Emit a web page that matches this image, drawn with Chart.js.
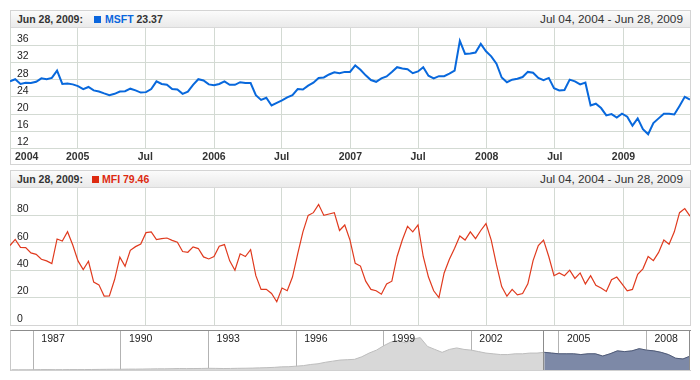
<!DOCTYPE html>
<html><head><meta charset="utf-8">
<script src="https://cdn.jsdelivr.net/npm/chart.js@4.4.1/dist/chart.umd.min.js"></script>
<style>
html,body{margin:0;padding:0;background:#fff;width:700px;height:380px;overflow:hidden;font-family:"Liberation Sans",Arial,sans-serif;}
.abs{position:absolute;}
.panel{position:absolute;box-sizing:border-box;border:1px solid #d4d4d4;background:#fff;}
.hdr{position:absolute;box-sizing:border-box;left:11px;width:679px;height:17px;background:linear-gradient(#fbfbfb,#eaeaea);border-bottom:1px solid #d9d9d9;}
.t{position:absolute;white-space:nowrap;line-height:17px;top:0;}
.b{font-weight:bold;font-size:10.5px;color:#333;}
.r{font-size:11.8px;color:#333;right:7px;}
.sq{position:absolute;width:7px;height:7px;top:5px;}
canvas{position:absolute;}
</style></head>
<body>
<div class="panel" style="left:10px;top:10px;width:681px;height:155px;"></div>
<div class="hdr" style="top:11px;">
  <span class="t b" style="left:6px;">Jun 28, 2009:</span>
  <span class="sq" style="left:83px;background:#0a66dd;"></span>
  <span class="t b" style="left:94px;"><span style="color:#0a66dd;">MSFT</span> 23.37</span>
  <span class="t r">Jul 04, 2004 - Jun 28, 2009</span>
</div>
<div class="panel" style="left:10px;top:170px;width:681px;height:156px;"></div>
<div class="hdr" style="top:171px;">
  <span class="t b" style="left:6px;">Jun 28, 2009:</span>
  <span class="sq" style="left:81px;background:#dd2a10;"></span>
  <span class="t b" style="left:91px;color:#dd2a10;">MFI 79.46</span>
  <span class="t r">Jul 04, 2004 - Jun 28, 2009</span>
</div>
<div class="abs" style="left:10px;top:330px;width:681px;height:41px;box-sizing:border-box;border-top:1px solid #8c8c8c;border-left:1px solid #c8c8c8;border-bottom:1px solid #d0d0d0;"></div>
<canvas id="c1" width="680" height="136" style="left:10px;top:28px;"></canvas>
<canvas id="c2" width="680" height="137" style="left:10px;top:188px;"></canvas>
<canvas id="c3" width="680" height="39" style="left:10px;top:331px;"></canvas>
<script>
// ---- data ----
const seriesStart = '2004-07-04';
const seriesEnd = '2009-06-28';
const stepDays = 14;
const msft = [27.6,28.1,27.0,27.3,27.2,27.5,28.3,28.1,28.4,30.1,27.0,27.1,26.9,26.5,25.8,26.3,25.5,25.25,24.8,24.4,
  24.7,25.25,25.3,25.9,25.5,25.0,25.1,25.8,27.6,27.0,26.8,25.8,25.7,24.7,25.2,26.8,28.1,27.8,26.9,26.7,
  27.0,27.6,26.8,26.8,27.4,27.2,27.2,24.4,23.3,23.8,22.0,22.6,23.2,23.9,24.4,25.8,25.7,26.6,27.3,28.4,
  28.5,29.2,29.7,29.5,29.8,29.8,31.3,30.3,29.0,27.9,27.5,28.3,28.75,29.8,30.9,30.6,30.4,29.5,29.9,30.9,
  28.9,28.3,28.8,28.8,29.4,30.1,37.0,34.0,34.1,34.3,36.3,34.6,33.4,31.7,28.5,27.4,28.0,28.2,28.6,29.8,
  29.6,28.4,27.9,28.4,26.0,25.5,25.6,28.0,27.6,26.9,27.3,22.0,22.4,21.4,19.7,20.0,19.2,20.1,19.4,17.3,
  19.0,16.5,15.3,17.9,19.0,20.1,20.1,19.9,21.9,24.0,23.37];
const mfi = [58,62.5,56.7,56.5,52.6,51.6,48,46.8,44.8,62.8,61.3,68.1,58.4,46.8,40.5,46.5,31.3,29.3,21.1,21.3,
  33.2,49.5,42.9,54.5,57.2,59.1,67.4,67.9,62.3,63,63.5,61.8,60.4,53.6,53.1,57,55.8,49.7,48.2,49.9,
  57.5,58.7,46.8,40,52,50,55,36,26,26,23,17,27,25,35,52,68,80,82,88,
  80,81,82,69,73,62,45,43,32,26,25,22.5,30,32,50,62,72,68,73,50,
  35,25,20,38,48,56,65,62,68,63,69,74,62,44,28,21,26,22,23,30,
  47,58,62,50,36,38,36,40,34,38,30,36,29,27,24.5,33,35,30,25,26,
  37,41,50,47,53,62,59,68,82,85,79.46];
const xTickDates = ['2004-07-04','2005-01-01','2005-07-01','2006-01-01','2006-07-01','2007-01-01','2007-07-01','2008-01-01','2008-07-01','2009-01-01'];
const xTickLabels = ['2004','2005','Jul','2006','Jul','2007','Jul','2008','Jul','2009'];
const msftTicks = [12,16,20,24,28,32,36];
const mfiTicks = [0,20,40,60,80];
const navStartYear = 1986.25;
const navStepYears = 0.25;
const navValues = [0.3,0.3,0.3,
  0.4,0.6,0.6,0.5, 0.5,0.6,0.6,0.6, 0.7,0.8,0.9,1.0, 1.0,1.2,1.2,1.3, 1.5,1.6,1.6,1.8,
  2.0,1.9,2.0,2.1, 2.3,2.2,2.0,2.1, 2.3,2.4,2.6,2.9, 3.2,3.6,4.3,4.5, 5.2,6.0,7.5,8.5,
  10.5,12,13.5,14, 14.5,18,23,27, 33,38,40,37, 42,44,32,28, 24,28,30,28,
  27,25,23,22, 21,21,22,22, 23,23,24,23, 22,22,22,21, 22,22,19,22,
  26,25,26,29, 27,26,24,21, 16,15,19];
const navTickYears = [1987,1990,1993,1996,1999,2002,2005,2008];
const navRange = [1986.2, 2009.49];
const navSelection = [2004.5, 2009.49];

// ---- helpers ----
const DAY = 86400000;
const t0 = Date.parse(seriesStart), t1 = Date.parse(seriesEnd);
const dates = msft.map((_, i) => t0 + i * stepDays * DAY);
const tickVals = xTickDates.map(d => Date.parse(d));
const gridColor = '#d3dad3';
const FONT = 'Liberation Sans';

function xScale(showGrid) {
  return {
    type: 'linear', min: t0, max: t1,
    afterBuildTicks: s => { s.ticks = tickVals.map(v => ({value: v})); },
    grid: {display: showGrid, color: gridColor, drawTicks: false},
    border: {display: false},
    ticks: {display: false}
  };
}
function yScale(min, max, ticks) {
  return {
    min, max,
    afterBuildTicks: s => { s.ticks = ticks.map(v => ({value: v})); },
    afterFit: s => { s.paddingTop = 0; s.paddingBottom = 0; s.width = 0; },
    grid: {color: gridColor, drawTicks: false},
    border: {display: false},
    ticks: {mirror: true, padding: 7, labelOffset: -6, color: '#222', font: {family: FONT, size: 10.5}}
  };
}
const xLabelPlugin = {
  id: 'xLabels',
  afterDraw(chart) {
    const {ctx, chartArea} = chart;
    const sx = chart.scales.x;
    ctx.save();
    ctx.font = 'bold 10.5px "' + FONT + '"';
    ctx.fillStyle = '#333';
    ctx.textBaseline = 'middle';
    tickVals.forEach((v, k) => {
      const px = sx.getPixelForValue(v);
      ctx.textAlign = k === 0 ? 'left' : 'center';
      ctx.fillText(xTickLabels[k], k === 0 ? px + 5 : px, chartArea.bottom + 8.5);
    });
    ctx.restore();
  }
};
const base = {responsive: false, animation: false, events: [],
  plugins: {legend: {display: false}, tooltip: {enabled: false}}};

new Chart(document.getElementById('c1'), {
  type: 'line',
  data: {datasets: [{data: msft.map((v, i) => ({x: dates[i], y: v})), borderColor: '#0868dc', borderWidth: 2,
    pointRadius: 0, tension: 0, fill: false}]},
  options: Object.assign({}, base, {
    layout: {padding: {left: 0, right: 0, top: 0, bottom: 15.5}, autoPadding: false},
    scales: {x: xScale(true), y: yScale(12, 40, msftTicks)}
  }),
  plugins: [xLabelPlugin]
});

new Chart(document.getElementById('c2'), {
  type: 'line',
  data: {datasets: [{data: mfi.map((v, i) => ({x: dates[i], y: v})), borderColor: '#e03a1e', borderWidth: 1.2,
    pointRadius: 0, tension: 0, fill: false}]},
  options: Object.assign({}, base, {
    layout: {padding: 0, autoPadding: false},
    scales: {x: xScale(true), y: yScale(0, 100, mfiTicks)}
  })
});

const navYears = navValues.map((_, i) => navStartYear + i * navStepYears);
const navPts = navValues.map((v, i) => ({x: navYears[i], y: v}));
const navSelPts = navPts.filter(p => p.x >= navSelection[0]);
const navPlugin = {
  id: 'navDeco',
  afterDraw(chart) {
    const {ctx, chartArea} = chart;
    const sx = chart.scales.x;
    ctx.save();
    ctx.font = '10.5px "' + FONT + '"';
    ctx.fillStyle = '#222';
    ctx.textBaseline = 'middle';
    ctx.textAlign = 'left';
    navTickYears.forEach(y => ctx.fillText(String(y), sx.getPixelForValue(y) + 8, chartArea.top + 8));
    ctx.strokeStyle = '#8c8c8c';
    ctx.lineWidth = 1;
    [navSelection[0], navSelection[1]].forEach(v => {
      const px = Math.round(sx.getPixelForValue(v)) - 0.5;
      ctx.beginPath(); ctx.moveTo(px, chartArea.top); ctx.lineTo(px, chartArea.bottom); ctx.stroke();
    });
    ctx.restore();
  }
};
new Chart(document.getElementById('c3'), {
  type: 'line',
  data: {datasets: [
    {data: navSelPts, order: 0, borderColor: '#4e5a79', backgroundColor: '#7d89a7', borderWidth: 1, pointRadius: 0, tension: 0, fill: 'origin'},
    {data: navPts, order: 1, borderColor: '#bdbdbd', backgroundColor: '#d8d8d8', borderWidth: 1, pointRadius: 0, tension: 0, fill: 'origin'}
  ]},
  options: Object.assign({}, base, {
    layout: {padding: 0, autoPadding: false},
    scales: {
      x: {type: 'linear', min: navRange[0], max: navRange[1],
        afterBuildTicks: s => { s.ticks = navTickYears.map(v => ({value: v})); },
        grid: {color: '#b3b3b3', drawTicks: false}, border: {display: false}, ticks: {display: false}},
      y: {min: 0, max: 53, display: false}
    }
  }),
  plugins: [navPlugin]
});
</script>
</body></html>
